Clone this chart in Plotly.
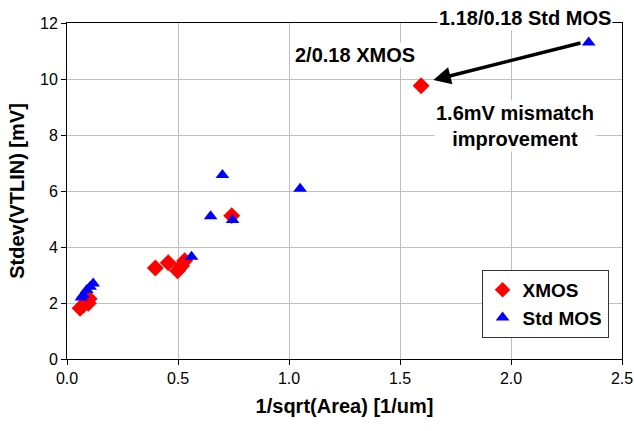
import plotly.graph_objects as go

# Data
xmos_x = [0.059, 0.074, 0.096, 0.10, 0.398, 0.456, 0.498, 0.516, 0.53, 0.742, 1.595]
xmos_y = [1.81, 1.93, 1.99, 2.15, 3.25, 3.44, 3.15, 3.32, 3.51, 5.12, 9.76]

std_x = [0.065, 0.073, 0.089, 0.104, 0.118, 0.561, 0.647, 0.70, 0.746, 1.05, 2.35]
std_y = [2.2, 2.29, 2.46, 2.58, 2.70, 3.65, 5.1, 6.57, 4.96, 6.08, 11.3]

x_ticks = [0.0, 0.5, 1.0, 1.5, 2.0, 2.5]
x_tick_labels = ["0.0", "0.5", "1.0", "1.5", "2.0", "2.5"]
y_ticks = [0, 2, 4, 6, 8, 10, 12]

FONT = "Liberation Sans, Arial, sans-serif"

fig = go.Figure()
fig.add_trace(go.Scatter(
    x=xmos_x, y=xmos_y, mode="markers", name="<b>XMOS</b>",
    marker=dict(symbol="diamond", size=13, color="#ff0000"),
))
fig.add_trace(go.Scatter(
    x=std_x, y=std_y, mode="markers", name="<b>Std MOS</b>",
    marker=dict(symbol="triangle-up", size=12, color="#0000ff"),
))

# Arrow from Std MOS point to XMOS point
fig.add_annotation(
    x=1.65, y=9.96, ax=2.32, ay=11.3, xref="x", yref="y", axref="x", ayref="y",
    text="", showarrow=True, arrowhead=2, arrowsize=1, arrowwidth=3.5,
    arrowcolor="#000000",
)
fig.add_annotation(
    x=0.8255, y=1.015, xref="paper", yref="paper", xanchor="center", yanchor="middle",
    text="<b>1.18/0.18 Std MOS</b>",
    showarrow=False, bgcolor="#ffffff", font=dict(family=FONT, size=20, color="#000000"),
)
fig.add_annotation(
    x=1.297, y=10.86, xref="x", yref="y", text="<b>2/0.18 XMOS</b>",
    showarrow=False, bgcolor="#ffffff", font=dict(family=FONT, size=20, color="#000000"),
)
fig.add_annotation(
    x=2.018, y=8.32, xref="x", yref="y",
    text="<b>1.6mV mismatch<br>improvement</b>",
    showarrow=False, bgcolor="#ffffff", font=dict(family=FONT, size=20, color="#000000"),
)

fig.update_layout(
    width=634, height=431,
    margin=dict(l=67, r=12, t=23, b=72, autoexpand=False),
    paper_bgcolor="#ffffff", plot_bgcolor="#ffffff",
    font=dict(family=FONT, size=16, color="#000000"),
    showlegend=True,
    legend=dict(
        x=0.747, y=0.265, xanchor="left", yanchor="top",
        bgcolor="#ffffff", bordercolor="#333333", borderwidth=1,
        font=dict(family=FONT, size=19, color="#000000"),
        itemsizing="constant", tracegroupgap=0, itemwidth=30,
    ),
    xaxis=dict(
        range=[0, 2.5], tickvals=x_ticks, ticktext=x_tick_labels,
        showgrid=True, gridcolor="#c0c0c0", gridwidth=1,
        showline=True, linecolor="#000000", linewidth=1, mirror=True,
        ticks="outside", ticklen=5, tickcolor="#000000",
        zeroline=False,
        title=dict(text="<b>1/sqrt(Area) [1/um]</b>", font=dict(family=FONT, size=20), standoff=12),
        tickfont=dict(family=FONT, size=16),
    ),
    yaxis=dict(
        range=[0, 12], tickvals=y_ticks,
        showgrid=True, gridcolor="#c0c0c0", gridwidth=1,
        showline=True, linecolor="#000000", linewidth=1, mirror=True,
        ticks="outside", ticklen=5, tickcolor="#000000",
        zeroline=False,
        title=dict(text="<b>Stdev(VTLIN) [mV]</b>", font=dict(family=FONT, size=20), standoff=10),
        tickfont=dict(family=FONT, size=16),
    ),
)

fig.write_html("out.html")
